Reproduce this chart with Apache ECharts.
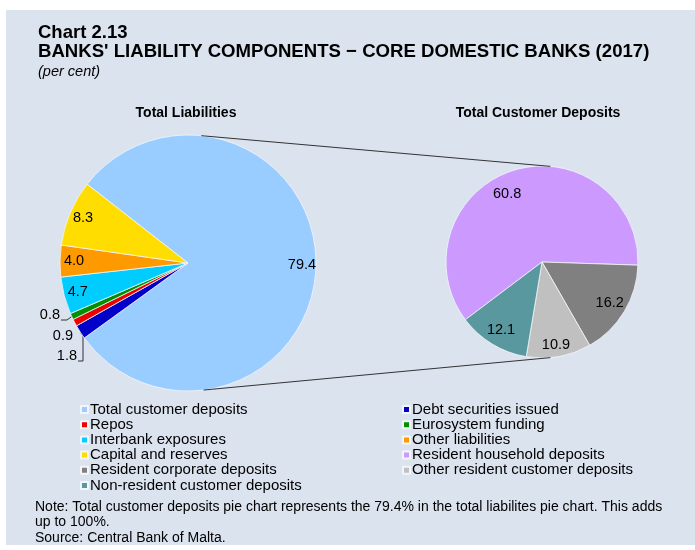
<!DOCTYPE html>
<html>
<head>
<meta charset="utf-8">
<script src="https://cdn.jsdelivr.net/npm/echarts@6/dist/echarts.min.js"></script>
<style>
  html, body { margin: 0; padding: 0; background: #ffffff; }
  #chart { width: 695px; height: 550px; }
</style>
</head>
<body>
<div id="chart"></div>
<script>
// Total liabilities breakdown (per cent)
const liabilityNames = [
  'Total customer deposits', 'Debt securities issued', 'Repos', 'Eurosystem funding',
  'Interbank exposures', 'Other liabilities', 'Capital and reserves'
];
const liabilityValues = [79.4, 1.8, 0.9, 0.8, 4.7, 4.0, 8.3];
const liabilityColors = ['#99ccff', '#0000c8', '#ee0000', '#009000', '#00ccff', '#ff9900', '#ffdd00'];

// Total customer deposits breakdown (per cent)
const depositNames = [
  'Resident household deposits', 'Resident corporate deposits',
  'Other resident customer deposits', 'Non-resident customer deposits'
];
const depositValues = [60.8, 16.2, 10.9, 12.1];
const depositColors = ['#cc99ff', '#808080', '#c0c0c0', '#5a98a0'];

// Legend columns
const legendLeft = ['Total customer deposits', 'Repos', 'Interbank exposures', 'Capital and reserves',
  'Resident corporate deposits', 'Non-resident customer deposits'];
const legendRight = ['Debt securities issued', 'Eurosystem funding', 'Other liabilities',
  'Resident household deposits', 'Other resident customer deposits'];

const FONT = '"Liberation Sans", Arial, Helvetica, sans-serif';
const PANEL = '#dbe3ef';

// pie geometry: centre, radius, start angle (degrees, counter-clockwise from 3 o'clock)
const leftPie = { cx: 188, cy: 263, r: 128, start: 142 };
const rightPie = { cx: 542, cy: 262, r: 96, start: 217 };

// point on the rim of a pie at the middle of slice i
function rimPoint(pie, values, i) {
  const total = values.reduce((a, b) => a + b, 0);
  let before = 0;
  for (let k = 0; k < i; k++) before += values[k];
  const mid = (before + values[i] / 2) / total * 360;
  const a = (pie.start - mid) * Math.PI / 180;
  return [pie.cx + pie.r * Math.cos(a), pie.cy - pie.r * Math.sin(a)];
}
// point on the rim at a clockwise angle measured from 12 o'clock
function rimAt(pie, deg) {
  const a = deg * Math.PI / 180;
  return [pie.cx + pie.r * Math.sin(a), pie.cy - pie.r * Math.cos(a)];
}

// call-out labels for the thin slices (label anchor = right/middle of text)
const callouts = {
  1: { x: 77, y: 356, style: 'bracket' },
  2: { x: 73, y: 336, style: 'none' },
  3: { x: 60, y: 315, style: 'hook' }
};

const fmt = p => Number(p.value).toFixed(1);
const LABEL_SIZE = 14.5;

const chart = echarts.init(document.getElementById('chart'), null, { renderer: 'canvas' });

const liabilityData = liabilityNames.map((n, i) => {
  const d = { name: n, value: liabilityValues[i], itemStyle: { color: liabilityColors[i] } };
  if (callouts[i]) {
    d.label = { show: true, position: 'outside' };
    d.labelLine = { show: callouts[i].style !== 'none' };
  }
  return d;
});
const depositData = depositNames.map((n, i) => ({
  name: n, value: depositValues[i], itemStyle: { color: depositColors[i] }
}));

// transparent rings used only to place the value labels further out than mid-radius
const liabilityLabelRing = liabilityValues.map((v, i) => ({
  value: v, label: { show: !callouts[i] }
}));
const depositLabelRing = depositValues.map((v, i) => ({
  value: v, label: i === 0 ? { offset: [-11, 7] } : (i === 2 ? { offset: [0, 5] } : {})
}));

const topA = rimAt(leftPie, 6), topB = rimAt(rightPie, 5);
const botA = rimAt(leftPie, 173), botB = rimAt(rightPie, 175);

const option = {
  animation: false,
  backgroundColor: '#ffffff',
  textStyle: { fontFamily: FONT },
  graphic: [
    { type: 'rect', z: -10, silent: true, shape: { x: 6, y: 10, width: 689, height: 535 }, style: { fill: PANEL } },
    { type: 'line', z: 5, silent: true, shape: { x1: topA[0], y1: topA[1], x2: topB[0], y2: topB[1] }, style: { stroke: '#333', lineWidth: 1 } },
    { type: 'line', z: 5, silent: true, shape: { x1: botA[0], y1: botA[1], x2: botB[0], y2: botB[1] }, style: { stroke: '#333', lineWidth: 1 } }
  ],
  title: [
    { text: 'Chart 2.13', left: 38, top: 23, padding: 0,
      textStyle: { fontFamily: FONT, fontSize: 18.5, fontWeight: 'bold', color: '#000' } },
    { text: "BANKS' LIABILITY COMPONENTS \u2212 CORE DOMESTIC BANKS (2017)", left: 38, top: 42, padding: 0,
      textStyle: { fontFamily: FONT, fontSize: 18.6, fontWeight: 'bold', color: '#000' } },
    { text: '(per cent)', left: 38, top: 64, padding: 0,
      textStyle: { fontFamily: FONT, fontSize: 14.5, fontStyle: 'italic', fontWeight: 'normal', color: '#000' } },
    { text: 'Total Liabilities', left: 186, top: 106, padding: 0, textAlign: 'center',
      textStyle: { fontFamily: FONT, fontSize: 14, fontWeight: 'bold', color: '#000' } },
    { text: 'Total Customer Deposits', left: 538, top: 106, padding: 0, textAlign: 'center',
      textStyle: { fontFamily: FONT, fontSize: 14, fontWeight: 'bold', color: '#000' } },
    { text: 'Note: Total customer deposits pie chart represents the 79.4% in the total liabilites pie chart. This adds\nup to 100%.\nSource: Central Bank of Malta.',
      left: 35, top: 499, padding: 0,
      textStyle: { fontFamily: FONT, fontSize: 14, fontWeight: 'normal', color: '#000', lineHeight: 15.5 } }
  ],
  legend: [
    { orient: 'vertical', left: 80, top: 402, padding: 0, itemGap: 0.2, itemWidth: 7, itemHeight: 7, icon: 'rect',
      data: legendLeft, selectedMode: false,
      textStyle: { fontFamily: FONT, fontSize: 15, lineHeight: 15, color: '#000', padding: [0, 0, 0, -3] } },
    { orient: 'vertical', left: 402, top: 402, padding: 0, itemGap: 0.2, itemWidth: 7, itemHeight: 7, icon: 'rect',
      data: legendRight, selectedMode: false,
      textStyle: { fontFamily: FONT, fontSize: 15, lineHeight: 15, color: '#000', padding: [0, 0, 0, -3] } }
  ],
  series: [
    {
      type: 'pie', name: 'Total Liabilities',
      center: [leftPie.cx, leftPie.cy], radius: leftPie.r, startAngle: leftPie.start, clockwise: true,
      avoidLabelOverlap: false, silent: true,
      itemStyle: { borderColor: '#f2f5fa', borderWidth: 0.8 },
      label: { show: false, fontFamily: FONT, fontSize: LABEL_SIZE, color: '#000', formatter: fmt },
      labelLine: { show: false, length: 4, length2: 6, lineStyle: { color: '#333', width: 1 } },
      labelLayout: function (p) {
        const c = callouts[p.dataIndex];
        if (!c) return {};
        const rim = rimPoint(leftPie, liabilityValues, p.dataIndex);
        const yb = c.y + 5;
        let pts;
        if (c.style === 'hook') {
          pts = [[c.x + 1, yb], [c.x + 7, yb], rim];
        } else if (c.style === 'bracket') {
          pts = [[c.x + 1, yb], [c.x + 6, yb], [c.x + 6, rim[1] + 4], rim];
        }
        const out = { x: c.x, y: c.y, align: 'right', verticalAlign: 'middle' };
        if (pts) out.labelLinePoints = pts;
        return out;
      },
      data: liabilityData
    },
    {
      type: 'pie', name: 'liability labels',
      center: [leftPie.cx, leftPie.cy], radius: [94, leftPie.r], startAngle: leftPie.start, clockwise: true,
      avoidLabelOverlap: false, silent: true, z: 3,
      itemStyle: { color: 'rgba(0,0,0,0)', borderWidth: 0 },
      label: { show: true, position: 'inside', fontFamily: FONT, fontSize: LABEL_SIZE, color: '#000', formatter: fmt },
      labelLine: { show: false },
      data: liabilityLabelRing
    },
    {
      type: 'pie', name: 'Total Customer Deposits',
      center: [rightPie.cx, rightPie.cy], radius: rightPie.r, startAngle: rightPie.start, clockwise: true,
      avoidLabelOverlap: false, silent: true,
      itemStyle: { borderColor: '#f2f5fa', borderWidth: 0.8 },
      label: { show: false },
      labelLine: { show: false },
      data: depositData
    },
    {
      type: 'pie', name: 'deposit labels',
      center: [rightPie.cx, rightPie.cy], radius: [56, rightPie.r], startAngle: rightPie.start, clockwise: true,
      avoidLabelOverlap: false, silent: true, z: 3,
      itemStyle: { color: 'rgba(0,0,0,0)', borderWidth: 0 },
      label: { show: true, position: 'inside', fontFamily: FONT, fontSize: LABEL_SIZE, color: '#000', formatter: fmt },
      labelLine: { show: false },
      data: depositLabelRing
    }
  ]
};

chart.setOption(option);
</script>
</body>
</html>
